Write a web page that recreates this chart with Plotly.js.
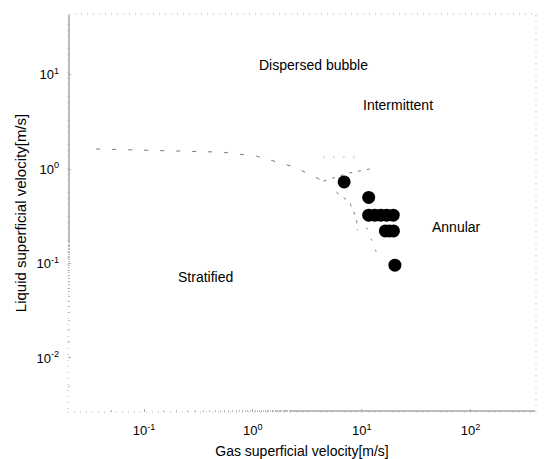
<!DOCTYPE html>
<html>
<head>
<meta charset="utf-8">
<script src="https://cdn.plot.ly/plotly-3.0.1.min.js"></script>
<style>
html,body{margin:0;padding:0;background:#fff;}
#chart{width:545px;height:459px;}
</style>
</head>
<body>
<div id="chart"></div>
<script>
// Measured points (gas superficial velocity, liquid superficial velocity)
const gasVel = [6.9, 11.6, 11.6, 13.2, 15.0, 17.0, 19.5, 16.5, 18.0, 19.6, 20.2];
const liqVel = [0.73, 0.50, 0.325, 0.325, 0.325, 0.325, 0.325, 0.221, 0.221, 0.221, 0.096];

// Faint regime boundary fragments
const boundA_x = [0.0363, 0.513, 1.08, 2.41, 4.45];
const boundA_y = [1.63, 1.51, 1.37, 1.05, 0.745];
const boundB_x = [4.45, 7.57, 12.9];
const boundB_y = [0.745, 0.905, 1.02];
const boundTop_x = [4.45, 9.93];
const boundTop_y = [1.34, 1.34];
const boundC_x = [5.86, 7.73, 8.96, 9.14];
const boundC_y = [0.569, 0.446, 0.302, 0.225];
const boundD_x = [11.1, 14.6];
const boundD_y = [0.24, 0.108];

// Regime labels
const regimeNames = ["Dispersed bubble", "Intermittent", "Annular", "Stratified"];
const regimeX = [3.58, 21.6, 73.8, 0.37];
const regimeY = [12.6, 4.75, 0.243, 0.0716];

// Tick labels
const xTickVals = [0.1, 1, 10, 100];
const xTickText = ["10<sup>-1</sup>", "10<sup>0</sup>", "10<sup>1</sup>", "10<sup>2</sup>"];
const yTickVals = [0.01, 0.1, 1, 10];
const yTickText = ["10<sup>-2</sup>", "10<sup>-1</sup>", "10<sup>0</sup>", "10<sup>1</sup>"];

const FONT = "Liberation Sans, Arial, sans-serif";
const lineStyle = {color: "#7a7a7a", width: 1, dash: "4px,12px"};

function bound(x, y, dash) {
  return {x: x, y: y, mode: "lines", type: "scatter", hoverinfo: "skip",
          line: Object.assign({}, lineStyle, dash ? {dash: dash} : {}), showlegend: false};
}

const traces = [
  bound(boundA_x, boundA_y),
  bound(boundB_x, boundB_y, "3px,6px"),
  bound(boundTop_x, boundTop_y, "1px,9px"),
  bound(boundC_x, boundC_y, "3px,6px"),
  bound(boundD_x, boundD_y, "2px,10px"),
  {x: gasVel, y: liqVel, mode: "markers", type: "scatter", showlegend: false,
   marker: {color: "#000", size: 13, line: {width: 0}}}
];

const annotations = regimeNames.map((t, i) => ({
  text: t, x: Math.log10(regimeX[i]), y: Math.log10(regimeY[i]),
  xref: "x", yref: "y", showarrow: false,
  font: {family: FONT, size: 14, color: "#000"}
}));

const layout = {
  width: 545, height: 459,
  margin: {l: 68, r: 9, t: 14, b: 47},
  paper_bgcolor: "#fff", plot_bgcolor: "#fff",
  font: {family: FONT, color: "#000"},
  showlegend: false,
  xaxis: {
    type: "log", range: [Math.log10(0.02), Math.log10(400)],
    tickvals: xTickVals, ticktext: xTickText,
    ticks: "inside", ticklen: 3, tickcolor: "#aaa",
    minor: {ticks: "inside", ticklen: 2, tickcolor: "#bbb", showgrid: false},
    showgrid: false, zeroline: false, showline: false,
    tickfont: {family: FONT, size: 13, color: "#000"},
    ticklabelstandoff: 9,
    title: {text: "Gas superficial velocity[m/s]", font: {family: FONT, size: 14, color: "#000"}, standoff: 10}
  },
  yaxis: {
    type: "log", range: [-2.572, 1.641],
    tickvals: yTickVals, ticktext: yTickText,
    ticks: "inside", ticklen: 3, tickcolor: "#aaa",
    minor: {ticks: "inside", ticklen: 2, tickcolor: "#bbb", showgrid: false},
    showgrid: false, zeroline: false, showline: false,
    tickfont: {family: FONT, size: 13, color: "#000"},
    ticklabelstandoff: 8,
    title: {text: "Liquid superficial velocity[m/s]", font: {family: FONT, size: 15, color: "#000"}, standoff: 6}
  },
  shapes: [{
    type: "rect", xref: "paper", yref: "paper", x0: 0, y0: 0, x1: 1, y1: 1,
    line: {color: "#b5b5b5", width: 1, dash: "1px,5px"}, layer: "above"
  }],
  annotations: annotations
};

Plotly.newPlot("chart", traces, layout, {staticPlot: true, displayModeBar: false});
</script>
</body>
</html>
